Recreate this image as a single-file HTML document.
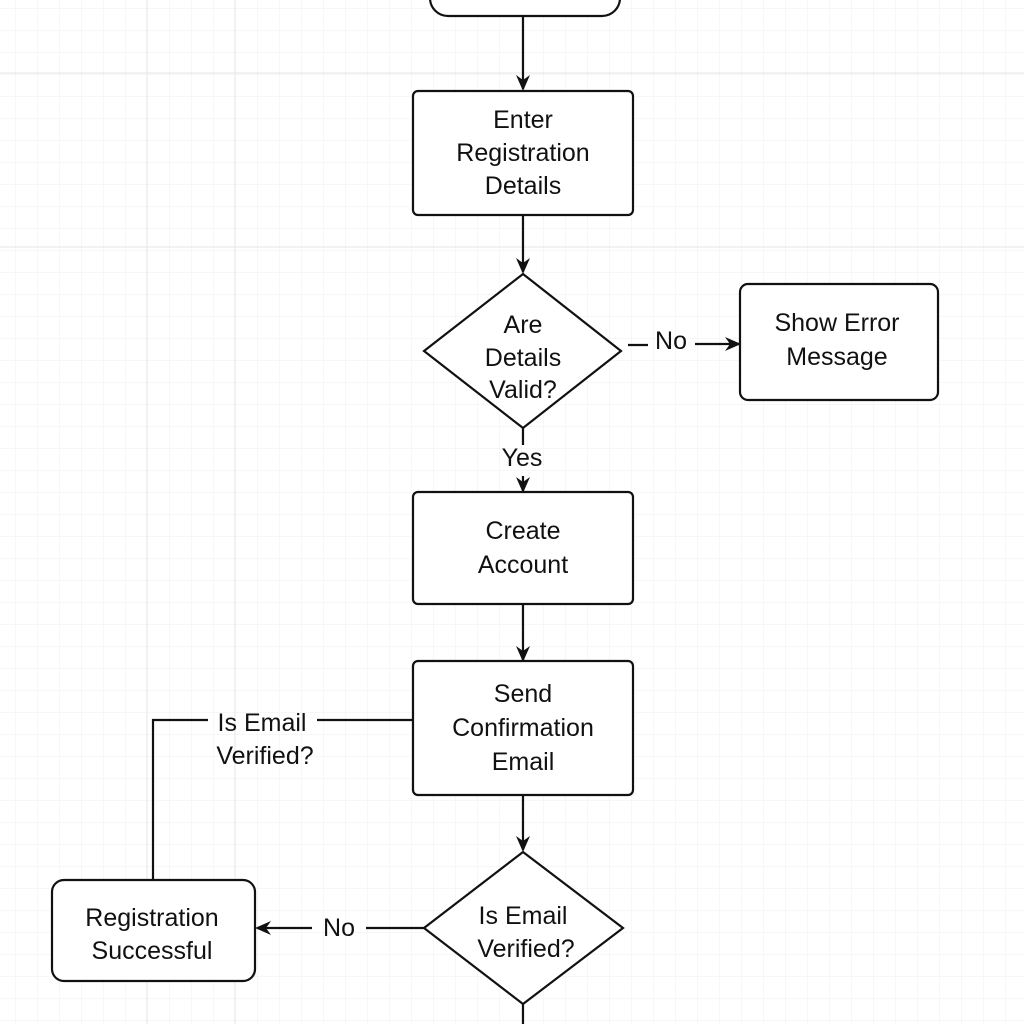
<!DOCTYPE html>
<html><head><style>body{margin:0;background:#fff}svg{display:block}text{font-family:"Liberation Sans",Arial,sans-serif;font-size:25px}</style></head><body>
<svg width="1024" height="1024" viewBox="0 0 1024 1024" xmlns="http://www.w3.org/2000/svg" fill="#111">
<defs>
<pattern id="g" width="22" height="22" patternUnits="userSpaceOnUse" x="15" y="8">
<path d="M0 0H22M0 0V22" stroke="#efefef" stroke-width="1" fill="none"/>
</pattern>
<marker id="a" markerWidth="16" markerHeight="16" refX="14" refY="8" orient="auto" markerUnits="userSpaceOnUse"><path d="M0 1L16 8L0 15L5 8Z" fill="#111"/></marker>
</defs>
<rect width="1024" height="1024" fill="#fff"/>
<rect width="1024" height="1024" fill="url(#g)"/>
<path d="M0 73H1024M0 247H1024M147 0V1024M235 0V1024" stroke="#e6e6e6" stroke-width="1"/>
<g stroke="#111" stroke-width="2.2" fill="#fff">
<rect x="430" y="-22" width="190" height="38" rx="18"/>
<rect x="413" y="91" width="220" height="124" rx="5"/>
<polygon points="523,274 621,351 523,428 424,351"/>
<rect x="740" y="284" width="198" height="116" rx="8"/>
<rect x="413" y="492" width="220" height="112" rx="5"/>
<rect x="413" y="661" width="220" height="134" rx="5"/>
<polygon points="523,852 623,928 523,1004 424,928"/>
<rect x="52" y="880" width="203" height="101" rx="12"/>
</g>
<g stroke="#111" stroke-width="2.2" fill="none">
<path d="M523 16V89" marker-end="url(#a)"/>
<path d="M523 215V272" marker-end="url(#a)"/>
<path d="M523 428V445"/>
<path d="M523 476V491" marker-end="url(#a)"/>
<path d="M628 345H648"/>
<path d="M695 344H739" marker-end="url(#a)"/>
<path d="M523 604V660" marker-end="url(#a)"/>
<path d="M523 795V850" marker-end="url(#a)"/>
<path d="M523 1004V1024"/>
<path d="M424 928H366"/>
<path d="M312 928H257" marker-end="url(#a)"/>
<path d="M413 720H317"/>
<path d="M208 720H153V880"/>
</g>
<g text-anchor="middle">
<text x="523" y="128">Enter</text>
<text x="523" y="161">Registration</text>
<text x="523" y="194">Details</text>
<text x="523" y="333">Are</text>
<text x="523" y="366">Details</text>
<text x="523" y="398">Valid?</text>
<text x="671" y="349">No</text>
<text x="837" y="331">Show Error</text>
<text x="837" y="365">Message</text>
<text x="522" y="466">Yes</text>
<text x="523" y="539">Create</text>
<text x="523" y="573">Account</text>
<text x="523" y="702">Send</text>
<text x="523" y="736">Confirmation</text>
<text x="523" y="770">Email</text>
<text x="262" y="731">Is Email</text>
<text x="265" y="764">Verified?</text>
<text x="523" y="924">Is Email</text>
<text x="526" y="957">Verified?</text>
<text x="339" y="936">No</text>
<text x="152" y="926">Registration</text>
<text x="152" y="959">Successful</text>
</g>
</svg>
</body></html>
